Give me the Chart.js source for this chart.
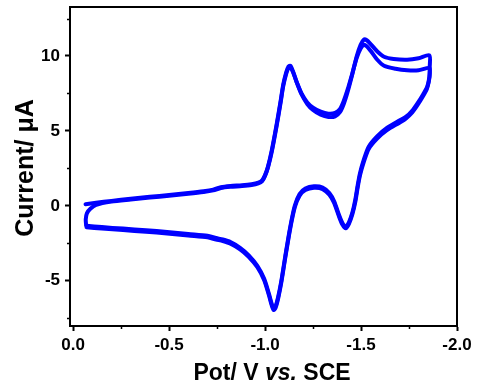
<!DOCTYPE html>
<html>
<head>
<meta charset="utf-8">
<script src="https://cdn.jsdelivr.net/npm/chart.js@4/dist/chart.umd.min.js"></script>
<style>
  html, body { margin: 0; padding: 0; background: #ffffff; }
  #wrap { width: 480px; height: 386px; }
</style>
</head>
<body>
<div id="wrap"><canvas id="c" width="480" height="386"></canvas></div>
<script>
// ---- data (Potential in V vs SCE, Current in µA) ----
const potentialCycle1 = [-0.065,-0.12,-0.2,-0.3,-0.4,-0.5,-0.6,-0.68,-0.73,-0.77,-0.82,-0.88,-0.93,-0.965,-0.985,-1.0,-1.015,-1.035,-1.06,-1.08,-1.095,-1.11,-1.122,-1.132,-1.145,-1.165,-1.19,-1.22,-1.25,-1.29,-1.33,-1.365,-1.39,-1.41,-1.43,-1.455,-1.478,-1.498,-1.515,-1.53,-1.55,-1.585,-1.62,-1.67,-1.74,-1.80,-1.856,
  -1.858,-1.856,-1.845,-1.824,-1.795,-1.77,-1.735,-1.70,-1.635,-1.585,-1.54,-1.515,-1.495,-1.483,-1.47,-1.455,-1.437,-1.42,-1.403,-1.385,-1.36,-1.335,-1.3,-1.255,-1.21,-1.18,-1.155,-1.13,-1.105,-1.085,-1.068,-1.055,-1.045,-1.035,-1.02,-0.995,-0.96,-0.915,-0.87,-0.82,-0.78,-0.745,-0.7,-0.6,-0.49,-0.38,-0.26,-0.15,-0.07];
const currentCycle1 = [0.11,0.2,0.33,0.47,0.6,0.72,0.85,0.97,1.08,1.25,1.33,1.38,1.45,1.55,1.7,2.05,2.6,3.7,5.4,6.9,8.1,8.9,9.3,9.35,9.0,8.25,7.45,6.8,6.4,6.08,5.93,5.97,6.25,6.8,7.6,8.8,10.0,10.75,11.1,11.05,10.8,10.3,9.95,9.8,9.75,9.85,10.05,
  9.3,8.6,7.95,7.45,6.85,6.4,5.95,5.7,5.2,4.65,3.95,3.1,2.2,1.4,0.4,-0.45,-1.1,-1.42,-1.15,-0.6,0.3,0.85,1.22,1.3,1.15,0.78,0.0,-1.5,-3.4,-5.0,-6.1,-6.7,-6.85,-6.55,-5.85,-4.85,-4.0,-3.3,-2.8,-2.42,-2.25,-2.15,-2.0,-1.88,-1.74,-1.63,-1.52,-1.42,-1.33];

const potentialCycle2 = [-0.068,-0.066,-0.072,-0.09,-0.12,-0.2,-0.3,-0.4,-0.5,-0.6,-0.68,-0.73,-0.77,-0.82,-0.88,-0.93,-0.965,-0.985,-1.0,-1.015,-1.035,-1.06,-1.08,-1.095,-1.11,-1.122,-1.132,-1.145,-1.165,-1.19,-1.22,-1.25,-1.29,-1.33,-1.365,-1.39,-1.41,-1.43,-1.455,-1.478,-1.498,-1.515,-1.53,-1.55,-1.585,-1.62,-1.68,-1.74,-1.80,-1.856,
  -1.858,-1.854,-1.843,-1.822,-1.793,-1.768,-1.733,-1.70,-1.635,-1.585,-1.54,-1.515,-1.495,-1.483,-1.47,-1.455,-1.437,-1.42,-1.403,-1.385,-1.36,-1.335,-1.3,-1.255,-1.21,-1.18,-1.155,-1.13,-1.105,-1.085,-1.068,-1.055,-1.045,-1.035,-1.02,-0.995,-0.96,-0.915,-0.87,-0.82,-0.78,-0.745,-0.7,-0.6,-0.49,-0.38,-0.26,-0.15,-0.07];
const currentCycle2 = [-1.3,-0.9,-0.5,-0.2,0.06,0.28,0.42,0.55,0.67,0.8,0.92,1.03,1.19,1.27,1.32,1.39,1.5,1.65,2.0,2.55,3.6,5.3,6.8,8.0,8.8,9.2,9.25,8.95,8.25,7.5,6.9,6.55,6.28,6.15,6.2,6.45,7.0,7.75,8.85,9.9,10.5,10.75,10.65,10.35,9.75,9.35,9.15,9.05,9.05,9.2,
  8.8,8.35,7.8,7.3,6.7,6.25,5.82,5.55,5.05,4.5,3.8,2.95,2.05,1.25,0.25,-0.55,-1.2,-1.5,-1.25,-0.7,0.2,0.75,1.12,1.2,1.05,0.68,-0.1,-1.6,-3.5,-5.1,-6.2,-6.8,-6.95,-6.65,-5.95,-4.95,-4.1,-3.4,-2.9,-2.52,-2.35,-2.25,-2.1,-1.98,-1.84,-1.73,-1.62,-1.52,-1.43];

const xTickValues = [0.0, -0.5, -1.0, -1.5, -2.0];
const xMinorTickValues = [-0.25, -0.75, -1.25, -1.75];
const yTickValues = [-5, 0, 5, 10];
const yMinorTickValues = [-7.5, -2.5, 2.5, 7.5, 12.5];
const xTitleParts = [["Pot/ V ", "normal"], ["vs.", "italic"], [" SCE", "normal"]];
const yTitle = "Current/ \u03bcA";

function pairs(xs, ys) { return xs.map((x, i) => ({ x: x, y: ys[i] })); }

const BLUE = '#0000ff';
const FONT = '"Liberation Sans", Arial, Helvetica, sans-serif';

const decorPlugin = {
  id: 'decor',
  afterDraw(chart) {
    const ctx = chart.ctx;
    const a = chart.chartArea;
    const xs = chart.scales.x, ys = chart.scales.y;
    ctx.save();
    ctx.strokeStyle = '#000';
    ctx.lineWidth = 2;
    // top and right frame
    ctx.beginPath();
    ctx.moveTo(a.left - 1, a.top);
    ctx.lineTo(a.right, a.top);
    ctx.lineTo(a.right, a.bottom + 1);
    ctx.stroke();
    // minor ticks
    ctx.lineWidth = 1.5;
    ctx.beginPath();
    xMinorTickValues.forEach(v => {
      const px = Math.round(xs.getPixelForValue(v)) + 0.5;
      ctx.moveTo(px, a.bottom);
      ctx.lineTo(px, a.bottom + 3);
    });
    yMinorTickValues.forEach(v => {
      const py = Math.round(ys.getPixelForValue(v)) + 0.5;
      ctx.moveTo(a.left, py);
      ctx.lineTo(a.left - 3, py);
    });
    ctx.stroke();
    // x title with italic "vs."
    ctx.fillStyle = '#000';
    ctx.textBaseline = 'alphabetic';
    ctx.textAlign = 'left';
    const xsz = 23;
    let total = 0;
    const widths = xTitleParts.map(p => {
      ctx.font = p[1] + ' bold ' + xsz + 'px ' + FONT;
      const w = ctx.measureText(p[0]).width;
      total += w;
      return w;
    });
    let cx = 272 - total / 2;
    xTitleParts.forEach((p, i) => {
      ctx.font = p[1] + ' bold ' + xsz + 'px ' + FONT;
      ctx.fillText(p[0], cx, 380);
      cx += widths[i];
    });
    // y title
    ctx.translate(33, 168);
    ctx.rotate(-Math.PI / 2);
    ctx.textAlign = 'center';
    ctx.font = 'bold 25px ' + FONT;
    ctx.fillText(yTitle, 0, 0);
    ctx.restore();
  }
};

const axisCommon = {
  type: 'linear',
  grid: { display: true, drawOnChartArea: false, drawTicks: true, tickLength: 5, tickWidth: 2, tickColor: '#000' },
  border: { display: true, width: 2, color: '#000' }
};

new Chart(document.getElementById('c'), {
  type: 'scatter',
  data: {
    datasets: [
      { data: pairs(potentialCycle1, currentCycle1) },
      { data: pairs(potentialCycle2, currentCycle2) }
    ].map(d => Object.assign(d, {
      showLine: true, borderColor: BLUE, backgroundColor: BLUE, borderWidth: 4,
      pointRadius: 0, tension: 0.25, borderCapStyle: 'round', borderJoinStyle: 'round', fill: false
    }))
  },
  options: {
    responsive: false,
    animation: false,
    devicePixelRatio: 1,
    layout: { padding: { top: 7, right: 23, left: 0, bottom: 0 } },
    plugins: { legend: { display: false }, tooltip: { enabled: false }, title: { display: false } },
    scales: {
      x: Object.assign({}, axisCommon, {
        position: 'bottom', reverse: true, min: -2.0, max: 0.016,
        afterBuildTicks: s => { s.ticks = xTickValues.map(v => ({ value: v })); },
        afterFit: s => { s.height = 60; s.paddingLeft = 0; s.paddingRight = 0; },
        ticks: { color: '#000', padding: 4, maxRotation: 0, font: { family: FONT, size: 17, weight: 'bold' },
                 callback: v => Number(v).toFixed(1) }
      }),
      y: Object.assign({}, axisCommon, {
        position: 'left', min: -8.02, max: 13.27,
        afterBuildTicks: s => { s.ticks = yTickValues.map(v => ({ value: v })); },
        afterFit: s => { s.width = 70; s.paddingTop = 0; s.paddingBottom = 0; },
        ticks: { color: '#000', padding: 5, font: { family: FONT, size: 17, weight: 'bold' },
                 callback: v => String(v) }
      })
    }
  },
  plugins: [decorPlugin]
});
</script>
</body>
</html>
